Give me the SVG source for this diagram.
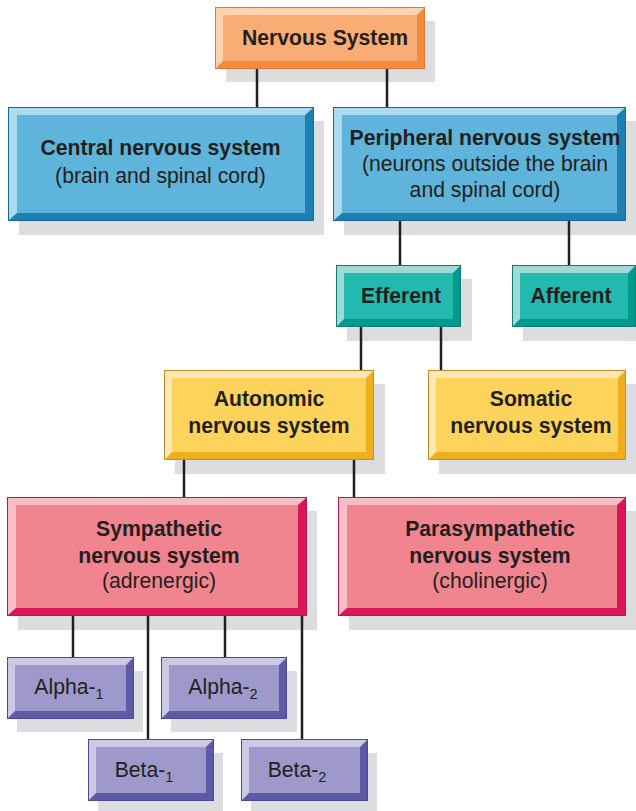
<svg xmlns="http://www.w3.org/2000/svg" width="636" height="811" viewBox="0 0 636 811">
<style>
.sh{fill:#DCDDDF}
text{font-family:"Liberation Sans",Arial,sans-serif;font-size:21.2px;fill:#231F20;text-anchor:middle}
.b{font-weight:bold}
.sub{font-size:14.5px}
.conn line{stroke:#231F20;stroke-width:2.5}
.o .d{fill:#F28C3C;stroke:#E07A30}.o .l{fill:#FDD3AE}.o .m{fill:#F9AD74}
.bl .d{fill:#1E80B2;stroke:#17679A}.bl .l{fill:#AADBF0}.bl .m{fill:#5EB4DA}
.t .d{fill:#00998F;stroke:#0A7D76}.t .l{fill:#A0DAD6}.t .m{fill:#22B9AF}
.y .d{fill:#EFAE1E;stroke:#C58A30}.y .l{fill:#FFE7B2}.y .m{fill:#FDD35B}
.p .d{fill:#DA165B;stroke:#BE1350}.p .l{fill:#F8BEC6}.p .m{fill:#F0848F}
.v .d{fill:#5F5AA5;stroke:#4D4993}.v .l{fill:#CCC9E6}.v .m{fill:#9E99CA}
</style>

<g id="shadows">
<rect class="sh" x="226" y="21" width="209" height="61"/>
<rect class="sh" x="19" y="121" width="305" height="114"/>
<rect class="sh" x="344" y="121" width="292" height="114"/>
<rect class="sh" x="347" y="279" width="125" height="62"/>
<rect class="sh" x="523" y="279" width="113" height="62"/>
<rect class="sh" x="175" y="384" width="210" height="90"/>
<rect class="sh" x="439" y="384" width="197" height="90"/>
<rect class="sh" x="18" y="511" width="299" height="119"/>
<rect class="sh" x="349" y="511" width="287" height="119"/>
<rect class="sh" x="17" y="671" width="126" height="61"/>
<rect class="sh" x="171" y="671" width="126" height="61"/>
<rect class="sh" x="98" y="753" width="125" height="58"/>
<rect class="sh" x="251" y="753" width="126" height="58"/>
</g>

<g id="connectors" class="conn">
<line x1="257" y1="68" x2="257" y2="107"/>
<line x1="387" y1="68" x2="387" y2="107"/>
<line x1="400" y1="220" x2="400" y2="265"/>
<line x1="569" y1="220" x2="569" y2="265"/>
<line x1="361" y1="326" x2="361" y2="370"/>
<line x1="441" y1="326" x2="441" y2="370"/>
<line x1="184" y1="459" x2="184" y2="497"/>
<line x1="354" y1="459" x2="354" y2="497"/>
<line x1="73" y1="615" x2="73" y2="657"/>
<line x1="148" y1="615" x2="148" y2="739"/>
<line x1="225" y1="615" x2="225" y2="657"/>
<line x1="302" y1="615" x2="302" y2="739"/>
</g>

<g id="nervous-system" class="o">
<rect class="d" x="215.5" y="7.5" width="209" height="61"/>
<polygon class="l" points="216,8 424,8 417,15 223,15 223,61 216,68"/>
<rect class="m" x="223" y="15" width="194" height="46"/>
<text class="b" x="325" y="45">Nervous System</text>
</g>

<g id="cns" class="bl">
<rect class="d" x="8.5" y="107.5" width="305" height="113"/>
<polygon class="l" points="9,108 313,108 305,115 17,115 17,213 9,220"/>
<rect class="m" x="17" y="115" width="288" height="98"/>
<text class="b" x="160.5" y="155">Central nervous system</text>
<text x="160.5" y="183">(brain and spinal cord)</text>
</g>

<g id="pns" class="bl">
<rect class="d" x="333.5" y="107.5" width="292" height="113"/>
<polygon class="l" points="334,108 625,108 617,115 342,115 342,213 334,220"/>
<rect class="m" x="342" y="115" width="275" height="98"/>
<text class="b" x="485" y="145">Peripheral nervous system</text>
<text x="485" y="171">(neurons outside the brain</text>
<text x="485" y="197">and spinal cord)</text>
</g>

<g id="efferent" class="t">
<rect class="d" x="336.5" y="265.5" width="124" height="61"/>
<polygon class="l" points="337,266 460,266 453,273 344,273 344,319 337,326"/>
<rect class="m" x="344" y="273" width="109" height="46"/>
<text class="b" x="401" y="303">Efferent</text>
</g>

<g id="afferent" class="t">
<rect class="d" x="512.5" y="265.5" width="123" height="61"/>
<polygon class="l" points="513,266 635,266 628,273 520,273 520,319 513,326"/>
<rect class="m" x="520" y="273" width="108" height="46"/>
<text class="b" x="571" y="303">Afferent</text>
</g>

<g id="autonomic" class="y">
<rect class="d" x="164.5" y="370.5" width="209" height="89"/>
<polygon class="l" points="165,371 373,371 366,378 172,378 172,452 165,459"/>
<rect class="m" x="172" y="378" width="194" height="74"/>
<text class="b" x="269" y="406">Autonomic</text>
<text class="b" x="269" y="433">nervous system</text>
</g>

<g id="somatic" class="y">
<rect class="d" x="428.5" y="370.5" width="197" height="89"/>
<polygon class="l" points="429,371 625,371 618,378 436,378 436,452 429,459"/>
<rect class="m" x="436" y="378" width="182" height="74"/>
<text class="b" x="531" y="406">Somatic</text>
<text class="b" x="531" y="433">nervous system</text>
</g>

<g id="sympathetic" class="p">
<rect class="d" x="7.5" y="497.5" width="299" height="118"/>
<polygon class="l" points="8,498 306,498 298,505 16,505 16,608 8,615"/>
<rect class="m" x="16" y="505" width="282" height="103"/>
<text class="b" x="159" y="536">Sympathetic</text>
<text class="b" x="159" y="563">nervous system</text>
<text x="159" y="588">(adrenergic)</text>
</g>

<g id="parasympathetic" class="p">
<rect class="d" x="338.5" y="497.5" width="287" height="118"/>
<polygon class="l" points="339,498 625,498 617,505 347,505 347,608 339,615"/>
<rect class="m" x="347" y="505" width="270" height="103"/>
<text class="b" x="490" y="536">Parasympathetic</text>
<text class="b" x="490" y="563">nervous system</text>
<text x="490" y="588">(cholinergic)</text>
</g>

<g id="alpha1" class="v">
<rect class="d" x="7.5" y="657.5" width="126" height="61"/>
<polygon class="l" points="8,658 133,658 126,665 15,665 15,711 8,718"/>
<rect class="m" x="15" y="665" width="111" height="46"/>
<text x="69" y="694">Alpha-<tspan class="sub" dy="5">1</tspan></text>
</g>

<g id="alpha2" class="v">
<rect class="d" x="161.5" y="657.5" width="125" height="61"/>
<polygon class="l" points="162,658 286,658 279,665 169,665 169,711 162,718"/>
<rect class="m" x="169" y="665" width="110" height="46"/>
<text x="223" y="694">Alpha-<tspan class="sub" dy="5">2</tspan></text>
</g>

<g id="beta1" class="v">
<rect class="d" x="88.5" y="739.5" width="125" height="61"/>
<polygon class="l" points="89,740 213,740 206,747 96,747 96,793 89,800"/>
<rect class="m" x="96" y="747" width="110" height="46"/>
<text x="144" y="777">Beta-<tspan class="sub" dy="5">1</tspan></text>
</g>

<g id="beta2" class="v">
<rect class="d" x="241.5" y="739.5" width="126" height="61"/>
<polygon class="l" points="242,740 367,740 360,747 249,747 249,793 242,800"/>
<rect class="m" x="249" y="747" width="111" height="46"/>
<text x="297" y="777">Beta-<tspan class="sub" dy="5">2</tspan></text>
</g>
</svg>
